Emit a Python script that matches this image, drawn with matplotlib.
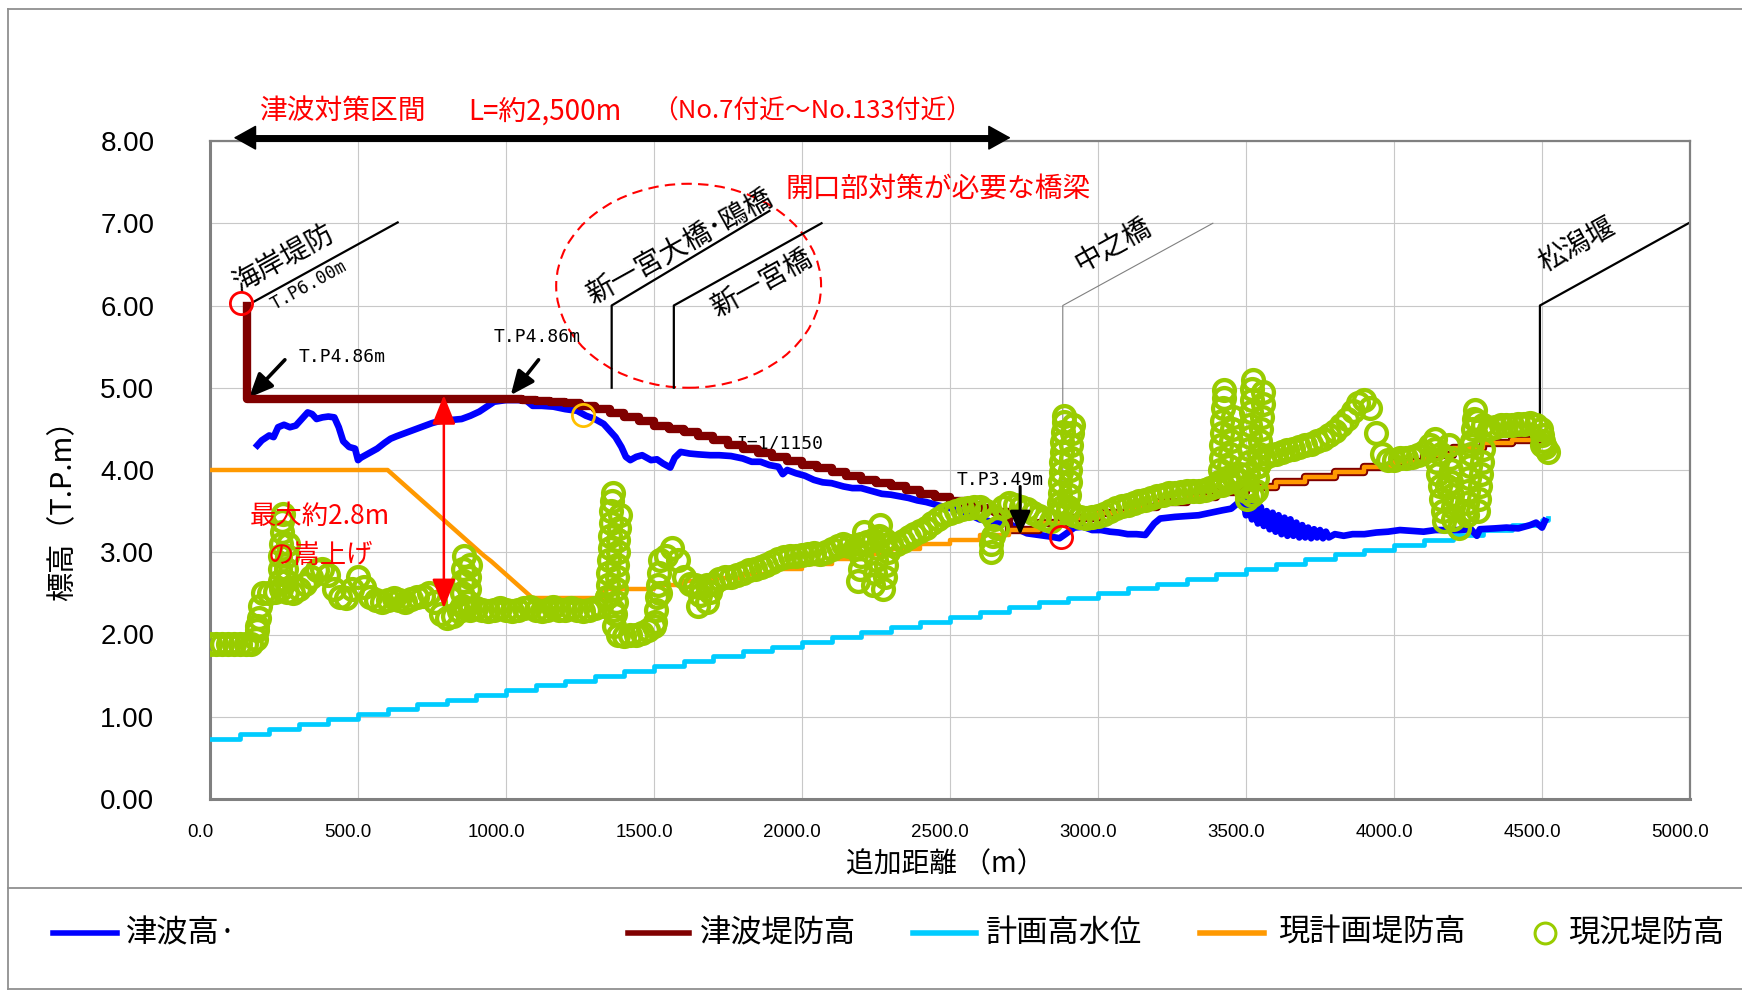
import numpy as np
import matplotlib
matplotlib.use('Agg')
import matplotlib.pyplot as plt
from matplotlib.patches import Ellipse
from matplotlib.lines import Line2D
from matplotlib.transforms import ScaledTranslation

plt.rcParams['font.family'] = ['Noto Sans CJK JP', 'DejaVu Sans']

# 計画高水位 (100m毎)
cyan_x = np.arange(0, 4600, 100)
cyan_y = [0.73, 0.79, 0.85, 0.91, 0.97, 1.03, 1.09, 1.15, 1.20, 1.26,
          1.32, 1.38, 1.44, 1.50, 1.56, 1.62, 1.68, 1.74, 1.80, 1.85,
          1.91, 1.97, 2.03, 2.09, 2.15, 2.21, 2.27, 2.33, 2.39, 2.44,
          2.50, 2.56, 2.62, 2.68, 2.74, 2.80, 2.86, 2.92, 2.98, 3.03,
          3.09, 3.15, 3.21, 3.27, 3.33, 3.39]

# 津波高
blue_x = [160, 175, 200, 215, 230, 250, 270, 290, 310, 330, 345, 360, 380, 400, 420, 435,
          450, 470, 490, 500, 510, 525, 545, 565, 590, 610, 630, 660, 690, 720, 750, 780,
          820, 850, 880, 910, 935, 960, 1000, 1040, 1070, 1090, 1120, 1160, 1200, 1240,
          1270, 1300, 1330, 1350, 1370, 1390, 1405, 1420, 1440, 1460, 1490, 1510, 1530,
          1555, 1570, 1590, 1620, 1650, 1690, 1720, 1760, 1800, 1830, 1860, 1890, 1920,
          1935, 1950, 1980, 2010, 2040, 2070, 2100, 2140, 2170, 2200, 2240, 2270, 2300,
          2330, 2360, 2390, 2420, 2450, 2480, 2510, 2540, 2570, 2600, 2630, 2660, 2700,
          2730, 2760, 2800, 2840, 2870, 2890, 2920, 2950, 2980, 3010, 3040, 3070, 3100,
          3130, 3160, 3190, 3210, 3260, 3300, 3340, 3380, 3420, 3450, 3480, 3490,
          3500, 3510, 3520, 3530, 3540, 3550, 3560, 3570, 3580, 3590, 3600, 3610, 3620,
          3630, 3640, 3650, 3660, 3670, 3680, 3690, 3700, 3710, 3720, 3730, 3740, 3750,
          3760, 3770, 3780, 3800, 3830, 3860, 3900, 3940, 3980, 4020, 4060, 4100, 4140,
          4180, 4220, 4260, 4280, 4290, 4340, 4380, 4420, 4460, 4480, 4500, 4510]
blue_y = [4.30, 4.36, 4.42, 4.40, 4.52, 4.55, 4.52, 4.54, 4.62, 4.70, 4.68, 4.62, 4.64, 4.65, 4.64, 4.52,
          4.35, 4.28, 4.26, 4.12, 4.15, 4.18, 4.22, 4.26, 4.33, 4.38, 4.41, 4.45, 4.49, 4.53, 4.57, 4.60,
          4.61, 4.62, 4.66, 4.71, 4.77, 4.83, 4.85, 4.85, 4.84, 4.78, 4.78, 4.77, 4.74, 4.72,
          4.66, 4.62, 4.56, 4.48, 4.40, 4.28, 4.16, 4.12, 4.16, 4.18, 4.12, 4.13, 4.08,
          4.03, 4.15, 4.22, 4.20, 4.19, 4.18, 4.18, 4.17, 4.14, 4.10, 4.10, 4.06, 4.04,
          3.95, 4.00, 3.96, 3.93, 3.88, 3.85, 3.84, 3.80, 3.78, 3.78, 3.74, 3.71, 3.70,
          3.68, 3.66, 3.63, 3.61, 3.58, 3.55, 3.53, 3.50, 3.45, 3.40, 3.38, 3.36, 3.35,
          3.28, 3.23, 3.21, 3.19, 3.17, 3.22, 3.30, 3.31, 3.27, 3.27, 3.25, 3.24, 3.22,
          3.22, 3.21, 3.35, 3.41, 3.43, 3.44, 3.45, 3.48, 3.51, 3.53, 3.62, 3.66,
          3.45, 3.62, 3.40, 3.58, 3.35, 3.55, 3.32, 3.50, 3.28, 3.48, 3.25, 3.45, 3.22,
          3.42, 3.20, 3.40, 3.20, 3.36, 3.18, 3.33, 3.18, 3.30, 3.17, 3.28, 3.18, 3.27,
          3.17, 3.25, 3.18, 3.22, 3.20, 3.22, 3.22, 3.24, 3.25, 3.27, 3.26, 3.25, 3.27,
          3.27, 3.27, 3.28, 3.20, 3.28, 3.29, 3.30, 3.29, 3.33, 3.36, 3.30, 3.38]

# 現計画堤防高 (前半は直線, 後半は階段)
orange_x = [0, 600, 625, 650, 675, 700, 725, 750, 775, 800, 825, 850, 875, 900, 925, 950,
            975, 1000, 1025, 1050, 1075, 1090,
            1330, 1500, 1600, 1700, 1800, 1900, 2000, 2100, 2200, 2300, 2400, 2500, 2600,
            2700, 2800, 2900, 3000, 3100, 3200, 3300, 3400, 3500, 3600, 3700, 3800, 3900,
            4000, 4100, 4200, 4300, 4400, 4490]
orange_y = [4.00, 4.00, 3.92, 3.84, 3.76, 3.68, 3.60, 3.52, 3.44, 3.36, 3.28, 3.20, 3.12, 3.04, 2.96, 2.89,
            2.81, 2.73, 2.65, 2.57, 2.49, 2.44,
            2.55, 2.60, 2.65, 2.69, 2.74, 2.80, 2.86, 2.92, 2.98, 3.04, 3.10, 3.15, 3.21,
            3.27, 3.35, 3.42, 3.48, 3.55, 3.61, 3.67, 3.73, 3.79, 3.85, 3.91, 3.97, 4.04,
            4.10, 4.18, 4.27, 4.33, 4.37, 4.40]
n_slope = orange_x.index(1090) + 1   # 直線部分
n_tail = orange_x.index(2700)        # 2700m以降は津波堤防高と共通

# 津波堤防高 (階段, 2700m以降は現計画堤防高と同じ)
brown_x = [125, 125, 1055, 1100, 1150, 1200, 1250, 1300, 1350, 1400, 1450, 1500, 1550,
           1600, 1650, 1700, 1750, 1800, 1850, 1900, 1950, 2000, 2050, 2100, 2150, 2200,
           2250, 2300, 2350, 2400, 2450, 2500, 2550, 2600, 2650]
brown_y = [6.00, 4.86, 4.85, 4.84, 4.83, 4.81, 4.78, 4.74, 4.69, 4.64, 4.59, 4.54, 4.50,
           4.46, 4.41, 4.36, 4.31, 4.26, 4.21, 4.16, 4.11, 4.06, 4.02, 3.97, 3.93, 3.88,
           3.84, 3.80, 3.76, 3.71, 3.67, 3.62, 3.58, 3.54, 3.49]

# 現況堤防高 (20m毎)
green_y = [1.88, 1.88, 1.88, 1.88, 1.88, 1.88, 1.88, 1.88, 2.10, 2.50,   # 0
           2.50, 2.52, 2.55, 2.52, 2.50, 2.55, 2.62, 2.70, 2.78, 2.80,   # 200
           2.72, 2.55, 2.45, 2.44, 2.55, 2.70, 2.58, 2.45, 2.42, 2.40,   # 400
           2.42, 2.44, 2.42, 2.40, 2.43, 2.45, 2.47, 2.50, 2.40, 2.25,   # 600
           2.20, 2.22, 2.28, 2.32, 2.30, 2.32, 2.30, 2.28, 2.30, 2.32,   # 800
           2.30, 2.28, 2.30, 2.32, 2.33, 2.30, 2.28, 2.30, 2.33, 2.30,   # 1000
           2.30, 2.32, 2.30, 2.28, 2.30, 2.32, 2.35, 2.45, 2.30, 2.00,   # 1200
           1.98, 2.00, 2.00, 2.02, 2.05, 2.10, 2.50, 2.95, 3.05, 2.90,   # 1400
           2.70, 2.62, 2.60, 2.58, 2.60, 2.62, 2.68, 2.70, 2.70, 2.72,   # 1600
           2.75, 2.78, 2.80, 2.82, 2.85, 2.88, 2.92, 2.94, 2.95, 2.96,   # 1800
           2.97, 2.98, 2.99, 2.98, 3.00, 3.04, 3.08, 3.10, 3.08, 3.05,   # 2000
           3.10, 3.12, 3.15, 3.18, 3.15, 3.10, 3.10, 3.14, 3.18, 3.22,   # 2200
           3.26, 3.30, 3.35, 3.40, 3.45, 3.48, 3.50, 3.52, 3.54, 3.55,   # 2400
           3.55, 3.50, 3.10, 3.30, 3.55, 3.60, 3.58, 3.55, 3.52, 3.48,   # 2600
           3.44, 3.40, 3.38, 3.45, 3.55, 3.50, 3.45, 3.43, 3.42, 3.43,   # 2800
           3.44, 3.46, 3.50, 3.54, 3.56, 3.58, 3.60, 3.62, 3.64, 3.66,   # 3000
           3.68, 3.70, 3.72, 3.72, 3.73, 3.74, 3.74, 3.75, 3.76, 3.78,   # 3200
           3.80, 3.82, 3.85, 3.90, 3.95, 3.75, 3.70, 4.05, 4.15, 4.18,   # 3400
           4.20, 4.22, 4.24, 4.26, 4.28, 4.30, 4.32, 4.35, 4.38, 4.42,   # 3600
           4.48, 4.55, 4.62, 4.72, 4.82, 4.85, 4.75, 4.45, 4.20, 4.12,   # 3800
           4.12, 4.15, 4.15, 4.16, 4.18, 4.22, 4.30, 4.38, 4.20, 3.80,   # 4000
           3.40, 3.30, 3.50, 4.30, 4.60, 4.55, 4.50, 4.52, 4.55, 4.55,   # 4200
           4.55, 4.56, 4.56, 4.57, 4.55, 4.30, 4.22]                     # 4400
green_x = np.arange(len(green_y)) * 20

# 橋梁部などの縦に並ぶ現況堤防高
spike_x = [155, 160, 165, 170,
           236, 236, 238, 240, 242, 244, 246, 258, 258, 260, 262,
           850, 852, 854, 856, 858, 872, 874, 876, 878,
           1342, 1344, 1346, 1348, 1350, 1352, 1354, 1356, 1358, 1360,
           1366, 1368, 1370, 1372, 1374, 1376, 1378, 1380, 1382, 1384,
           1505, 1508, 1511, 1514, 1517, 1520,
           1650, 1655, 1680, 1690,
           2190, 2195, 2200, 2205, 2210, 2240, 2245, 2250, 2255, 2260, 2265,
           2275, 2280, 2285, 2290,
           2640, 2645, 2650,
           2868, 2870, 2872, 2874, 2876, 2878, 2880, 2882, 2884, 2886,
           2900, 2902, 2904, 2906, 2908, 2910, 2912, 2914,
           3410, 3412, 3414, 3416, 3418, 3420, 3422, 3424, 3426,
           3440, 3443, 3446, 3449, 3452, 3455,
           3505, 3505, 3507, 3509, 3511, 3513, 3515, 3517, 3519, 3521, 3523,
           3535, 3538, 3541, 3544, 3547, 3550, 3553, 3556, 3559,
           4140, 4145, 4150, 4155, 4160, 4165, 4170,
           4185, 4188, 4191, 4194, 4197, 4200,
           4245, 4248, 4251, 4254, 4257, 4260, 4263, 4266, 4269, 4272,
           4285, 4288, 4291, 4294, 4297, 4300,
           4495, 4500, 4505, 4510]
spike_y = [1.95, 2.05, 2.20, 2.35,
           2.65, 2.80, 2.95, 3.10, 3.25, 3.38, 3.46, 2.65, 2.80, 2.95, 3.10,
           2.35, 2.50, 2.65, 2.80, 2.95, 2.40, 2.55, 2.70, 2.85,
           2.45, 2.60, 2.75, 2.90, 3.05, 3.20, 3.35, 3.50, 3.62, 3.72,
           2.10, 2.25, 2.40, 2.55, 2.70, 2.85, 3.00, 3.15, 3.30, 3.45,
           2.15, 2.30, 2.45, 2.60, 2.75, 2.90,
           2.35, 2.48, 2.40, 2.52,
           2.65, 2.80, 2.95, 3.10, 3.25, 2.60, 2.75, 2.90, 3.05, 3.20, 3.33,
           2.55, 2.70, 2.85, 3.00,
           3.00, 3.20, 3.40,
           3.60, 3.72, 3.85, 3.98, 4.10, 4.22, 4.34, 4.46, 4.58, 4.66,
           3.55, 3.70, 3.85, 4.00, 4.15, 4.30, 4.45, 4.55,
           3.85, 4.00, 4.15, 4.30, 4.45, 4.60, 4.75, 4.88, 4.97,
           3.90, 4.05, 4.20, 4.35, 4.50, 4.65,
           3.65, 3.80, 3.95, 4.10, 4.25, 4.40, 4.55, 4.70, 4.85, 4.98, 5.09,
           3.75, 3.90, 4.05, 4.20, 4.35, 4.50, 4.65, 4.80, 4.95,
           4.25, 4.10, 3.95, 3.80, 3.65, 3.50, 3.38,
           4.30, 4.15, 4.00, 3.85, 3.70, 3.55,
           3.45, 3.60, 3.75, 3.90, 4.05, 4.20, 4.35, 4.50, 4.62, 4.73,
           3.50, 3.65, 3.80, 3.95, 4.10, 4.25,
           4.50, 4.42, 4.35, 4.28]

x_ticks = np.arange(0, 5001, 500)
y_ticks = np.arange(0, 9, 1)

names = ['津波高·', '津波堤防高', '計画高水位', '現計画堤防高', '現況堤防高']
colors = ['#0000ff', '#800000', '#00ccff', '#ff9900', '#99cc00']

W, H = 1742, 992
fig = plt.figure(figsize=(W / 100, H / 100), dpi=100)
ax = fig.add_axes([210 / W, 193 / H, 1480 / W, 658 / H])

ax.plot(np.append(cyan_x, 4520), cyan_y + [3.42], color=colors[2], lw=3.4,
        drawstyle='steps-post', zorder=3)
ax.plot(blue_x, blue_y, color=colors[0], lw=4.8, zorder=4)
tail_x = orange_x[n_tail:]
tail_y = orange_y[n_tail:]
ax.plot(brown_x + tail_x, brown_y + tail_y, color=colors[1], lw=6,
        drawstyle='steps-post', zorder=5)
ax.plot(orange_x[:n_slope], orange_y[:n_slope], color=colors[3], lw=3.2, zorder=6)
ax.plot(orange_x[n_slope - 1:], orange_y[n_slope - 1:], color=colors[3], lw=3.2,
        drawstyle='steps-post', zorder=6)
gkw = dict(ls='none', marker='o', mfc='none', mec=colors[4], ms=15, mew=3.1, zorder=7)
ax.plot(green_x, green_y, **gkw)
ax.plot(spike_x, spike_y, **gkw)

ax.set_xlim(0, 5000)
ax.set_ylim(0, 8)
ax.set_xticks(x_ticks)
ax.set_xticklabels([f'{v:.1f}' for v in x_ticks], fontsize=13.5, family=['Liberation Sans'])
ax.set_yticks(y_ticks)
ax.set_yticklabels([f'{v:.2f}' for v in y_ticks], fontsize=20, family=['Liberation Sans'])
ax.tick_params(axis='y', length=0, pad=40)
ax.tick_params(axis='x', length=0, pad=18)
for lab in ax.get_xticklabels():
    lab.set_transform(lab.get_transform() + ScaledTranslation(-0.1, 0, fig.dpi_scale_trans))
ax.grid(True, color='#c8c8c8', lw=0.8)
ax.set_axisbelow(True)
for s in ax.spines.values():
    s.set_color('#808080')
    s.set_linewidth(1.6)
ax.spines['left'].set_linewidth(2.2)
ax.spines['bottom'].set_linewidth(2.2)

ax.set_ylabel('標高（T.P.m）', fontsize=21)
ax.yaxis.set_label_coords(-0.089, 0.45)
ax.set_xlabel('追加距離 （m）', fontsize=20)
ax.xaxis.set_label_coords(0.497, -0.076)

# 津波対策区間の矢印
ax.plot([110, 2675], [8.04, 8.04], color='k', lw=5, solid_capstyle='butt', clip_on=False, zorder=8)
ax.annotate('', xy=(80, 8.04), xytext=(2705, 8.04), annotation_clip=False,
            arrowprops=dict(arrowstyle='<|-|>,head_length=0.9,head_width=0.5', mutation_scale=16,
                            lw=1.2, color='k', shrinkA=0, shrinkB=0))
red_kw = dict(color='#ff0000', va='center', ha='left')
ax.text(165, 8.36, '津波対策区間', fontsize=20, clip_on=False, **red_kw)
ax.text(874, 8.36, 'L=約2,500m', fontsize=20, clip_on=False, **red_kw)
ax.text(1495, 8.36, '（No.7付近～No.133付近）', fontsize=18.5, clip_on=False, **red_kw)

# 開口部対策が必要な橋梁
ax.add_patch(Ellipse((1617, 6.24), 895, 2.48, fill=False, ec='#ff0000', lw=1.5, ls=(0, (5, 3)), zorder=2))
ax.text(2460, 7.42, '開口部対策が必要な橋梁', color='#ff0000', fontsize=20, ha='center', va='center')

# 引出線
ax.plot([150, 634], [6.05, 7.01], color='k', lw=1.6, zorder=2)
ax.plot([1357, 1357, 1890], [5.0, 6.0, 7.15], color='k', lw=1.6, zorder=2)
ax.plot([1567, 1567, 2066], [5.0, 6.0, 7.0], color='k', lw=1.6, zorder=2)
ax.plot([2881, 2881, 3388], [3.55, 6.0, 7.0], color='#808080', lw=0.8, zorder=2)
ax.plot([4493, 4493, 4995], [4.6, 6.0, 7.0], color='k', lw=1.6, zorder=2)
bkw = dict(fontsize=20, ha='center', va='center', rotation=29, rotation_mode='anchor')
ax.text(250, 6.57, '海岸堤防', **bkw)
ax.text(1590, 6.70, '新一宮大橋･鴎橋', **bkw)
ax.text(1863, 6.27, '新一宮橋', **bkw)
ax.text(3048, 6.74, '中之橋', **bkw)
ax.text(4617, 6.74, '松潟堰', **bkw)

mono = ['DejaVu Sans Mono', 'Noto Sans CJK JP']
ax.text(334, 6.25, 'T.P6.00m', family=mono, fontsize=12.5, ha='center', va='center',
        rotation=29, rotation_mode='anchor')
ax.text(300, 5.37, 'T.P4.86m', family=mono, fontsize=13, va='center')
ax.text(958, 5.62, 'T.P4.86m', family=mono, fontsize=13, va='center')
ax.text(2524, 3.88, 'T.P3.49m', family=mono, fontsize=13, va='center', zorder=9)
ax.text(1779, 4.32, 'I=1/1150', family=mono, fontsize=13, va='center')
akw = dict(arrowstyle='-|>,head_length=0.8,head_width=0.35', mutation_scale=18, lw=2.6, color='k',
           shrinkA=0, shrinkB=0)
ax.annotate('', xy=(132, 4.88), xytext=(253, 5.34), arrowprops=akw)
ax.annotate('', xy=(1016, 4.91), xytext=(1110, 5.34), arrowprops=akw)
ax.annotate('', xy=(2737, 3.21), xytext=(2737, 3.80), arrowprops=dict(akw, lw=2.2), zorder=9)

# 丸印
ax.plot([104, 2876], [6.03, 3.19], 'o', ls='none', mfc='none', mec='#ff0000', ms=16, mew=2, zorder=9)
ax.plot([1259], [4.67], 'o', ls='none', mfc='none', mec='#ffc000', ms=16, mew=2, zorder=9)

# 最大約2.8mの嵩上げ
ax.annotate('', xy=(790, 2.32), xytext=(790, 4.91),
            arrowprops=dict(arrowstyle='<|-|>,head_length=1.0,head_width=0.4', mutation_scale=18,
                            lw=1.8, color='#ff0000', shrinkA=0, shrinkB=0), zorder=9)
ax.text(372, 3.43, '最大約2.8m', color='#ff0000', fontsize=19, ha='center', va='center', zorder=9)
ax.text(372, 2.96, 'の嵩上げ', color='#ff0000', fontsize=19, ha='center', va='center', zorder=9)


def px(x, y):
    return x / W, 1 - y / H


# 外枠と凡例
frame = dict(color='#909090', lw=1.3)
for (x0, y0), (x1, y1) in [((8, 9), (8, 989)), ((8, 9), (W, 9)), ((8, 888), (W, 888)),
                           ((8, 989), (W, 989))]:
    a, b = px(x0, y0)
    c, d = px(x1, y1)
    fig.add_artist(Line2D([a, c], [b, d], **frame))

leg_y = 933
leg_line = [(53, 117), (628, 689), (913, 976), (1200, 1264)]
leg_text = [126, 700, 986, 1278, 1568]
for i in range(4):
    a, b = px(leg_line[i][0], leg_y)
    c, _ = px(leg_line[i][1], leg_y)
    fig.add_artist(Line2D([a, c], [b, b], color=colors[i], lw=4))
a, b = px(1545, leg_y)
fig.add_artist(Line2D([a], [b], marker='o', mfc='none', mec=colors[4], ms=15, mew=2.2))
for i, name in enumerate(names):
    a, b = px(leg_text[i], leg_y)
    fig.text(a, b, name, fontsize=22.5, va='center', ha='left')

fig.savefig('out.png', dpi=100)
